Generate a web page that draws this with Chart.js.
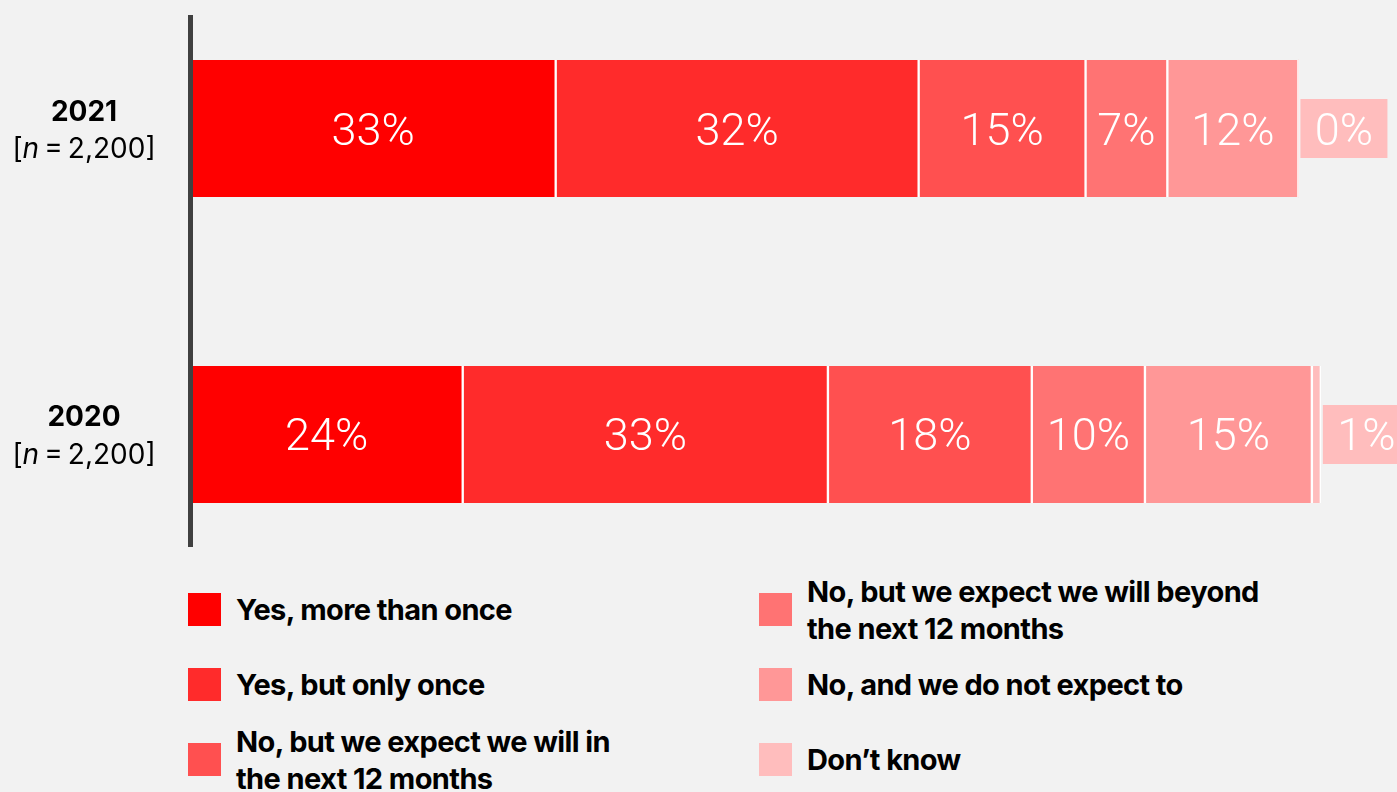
<!DOCTYPE html>
<html>
<head>
<meta charset="utf-8">
<script src="https://cdn.jsdelivr.net/npm/chart.js@4.4.1/dist/chart.umd.min.js"></script>
<style>
  html, body { margin: 0; padding: 0; background: #f2f2f2; }
  body { width: 1397px; height: 792px; position: relative; overflow: hidden; font-family: Inter, sans-serif; }
  #chart { position: absolute; left: 0; top: 0; }
  #legend {
    position: absolute; left: 188px; top: 572px;
    display: grid; grid-template-columns: 571px 520px; grid-template-rows: repeat(3, 75px);
    grid-auto-flow: column;
  }
  .item { display: flex; align-items: center; }
  .swatch { width: 33px; height: 33px; flex: none; margin-right: 15px; }
  .txt { font-weight: 700; font-size: 29px; line-height: 37px; letter-spacing: -0.6px; color: #000; }
  .col0 .txt { max-width: 400px; }
  .col1 .txt { max-width: 470px; }
</style>
</head>
<body>
<canvas id="chart" width="1397" height="560"></canvas>
<div id="legend"></div>
<script>
const years = ['2021', '2020'];
const sampleSizes = ['2,200', '2,200'];
const answers = [
    'Yes, more than once',
    'Yes, but only once',
    'No, but we expect we will in the next 12 months',
    'No, but we expect we will beyond the next 12 months',
    'No, and we do not expect to',
    'Don\u2019t know'
];
// shares in % (labels show them rounded)
const yesMoreThanOnce = [32.6, 24.3];
const yesOnlyOnce = [32.4, 32.6];
const expectNext12 = [14.9, 18.2];
const expectBeyond12 = [7.3, 10.1];
const doNotExpect = [11.7, 14.9];
const dontKnow = [0, 0.8];

const series = [yesMoreThanOnce, yesOnlyOnce, expectNext12, expectBeyond12, doNotExpect, dontKnow];
const colors = ['#ff0000', '#ff2b2b', '#ff5050', '#ff7373', '#ff9797', '#ffbdbd'];

// values on the bars, the last answer gets a box after the bar
const labelPlugin = {
    id: 'barLabels',
    afterDatasetsDraw(chart) {
        const ctx = chart.ctx;
        const last = chart.data.datasets.length - 1;
        ctx.save();
        ctx.font = '300 45px Roboto';
        ctx.textAlign = 'center';
        ctx.textBaseline = 'alphabetic';
        chart.data.datasets.forEach((ds, i) => {
            chart.getDatasetMeta(i).data.forEach((bar, j) => {
                const text = Math.round(ds.data[j].x) + '%';
                const base = bar.y + 16;
                if (i === last) {
                    const left = bar.x + 2;
                    ctx.fillStyle = ds.backgroundColor;
                    ctx.fillRect(left, bar.y - 29.5, 87, 59);
                    ctx.fillStyle = '#fff';
                    ctx.fillText(text, left + 43.5, base);
                } else {
                    ctx.fillStyle = '#fff';
                    ctx.fillText(text, (bar.x + bar.base) / 2, base);
                }
            });
        });
        ctx.restore();
    },
    afterDraw(chart) {
        const ctx = chart.ctx;
        const y = chart.scales.y;
        const cx = 84;
        ctx.save();
        ctx.fillStyle = '#000';
        ctx.textBaseline = 'alphabetic';
        years.forEach((year, j) => {
            const py = y.getPixelForValue(j);
            ctx.textAlign = 'center';
            ctx.font = '700 28px Inter';
            ctx.fillText(year, cx, py - 8);
            // [n = 2,200] with italic n
            const parts = [
                ['[', '400 28px Inter'],
                ['n', 'italic 400 28px Inter'],
                ['\u2009=\u2009' + sampleSizes[j] + ']', '400 28px Inter']
            ];
            let total = 0;
            parts.forEach(p => { ctx.font = p[1]; total += ctx.measureText(p[0]).width; });
            let x = cx - total / 2;
            ctx.textAlign = 'left';
            parts.forEach(p => {
                ctx.font = p[1];
                ctx.fillText(p[0], x, py + 29.5);
                x += ctx.measureText(p[0]).width;
            });
        });
        ctx.restore();
    }
};

new Chart(document.getElementById('chart').getContext('2d'), {
    type: 'bar',
    data: {
        datasets: series.map((values, i) => ({
            label: answers[i],
            data: values.map((v, j) => ({ x: v, y: j })),
            backgroundColor: colors[i],
            borderColor: '#ffffff',
            borderWidth: { left: 1.5, right: 1.5, top: 0, bottom: 0 },
            borderSkipped: false,
            barThickness: 137
        }))
    },
    options: {
        indexAxis: 'y',
        responsive: false,
        animation: false,
        layout: { padding: { left: 190.5, right: 0, top: 17, bottom: 14 } },
        plugins: { legend: { display: false }, tooltip: { enabled: false } },
        scales: {
            x: { stacked: true, min: 0, max: 107.7, display: false },
            y: {
                type: 'linear',
                stacked: true,
                reverse: true,
                offset: false,
                min: -0.3644,
                max: 1.3644,
                grid: { display: false },
                ticks: { display: false },
                border: { display: true, color: '#404040', width: 5, z: 1 },
                afterFit: scale => { scale.width = 0; }
            }
        }
    },
    plugins: [labelPlugin]
});

// legend, two columns of three
const legend = document.getElementById('legend');
answers.forEach((answer, i) => {
    const item = document.createElement('div');
    item.className = 'item col' + Math.floor(i / 3);
    const sw = document.createElement('span');
    sw.className = 'swatch';
    sw.style.background = colors[i];
    const txt = document.createElement('span');
    txt.className = 'txt';
    txt.textContent = answer;
    item.appendChild(sw);
    item.appendChild(txt);
    legend.appendChild(item);
});
</script>
</body>
</html>
